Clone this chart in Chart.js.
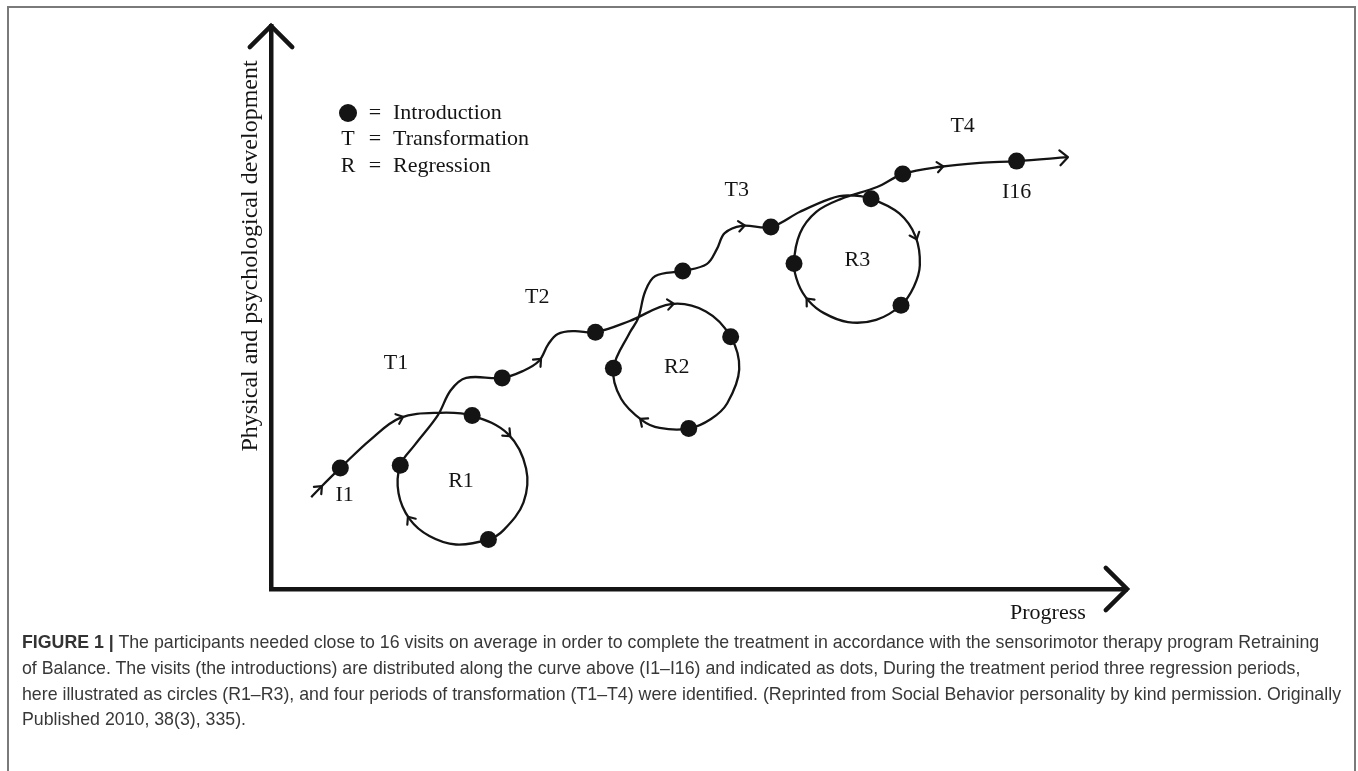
<!DOCTYPE html>
<html>
<head>
<meta charset="utf-8">
<script src="https://cdn.jsdelivr.net/npm/chart.js@4.4.1/dist/chart.umd.min.js"></script>
<style>
html, body { margin: 0; padding: 0; background: #fff; overflow: hidden; }
#frame { position: absolute; left: 7px; top: 6px; width: 1349px; height: 820px; border: 2px solid #7a7a7a; box-sizing: border-box; }
#wrap { position: absolute; left: 0; top: 0; width: 1358px; height: 640px; }
#caption { position: absolute; left: 22px; top: 630px; font-family: "Liberation Sans", Arial, sans-serif; font-size: 16.5px; line-height: 25.8px; color: #383838; white-space: nowrap; }
#caption b { font-weight: bold; color: #333; }
</style>
</head>
<body>
<div id="frame"></div>
<div id="wrap"><canvas id="fig"></canvas></div>
<div id="caption"><span id="line1"><b>FIGURE 1 |</b> The participants needed close to 16 visits on average in order to complete the treatment in accordance with the sensorimotor therapy program Retraining</span><br>of Balance. The visits (the introductions) are distributed along the curve above (I1–I16) and indicated as dots, During the treatment period three regression periods,<br>here illustrated as circles (R1–R3), and four periods of transformation (T1–T4) were identified. (Reprinted from Social Behavior personality by kind permission. Originally<br>Published 2010, 38(3), 335).</div>
<script>
// the development curve (progress 0-100, development 0-100)
const curveX = [4.7, 5.7, 8.1, 11.6, 15.1, 19.7, 23.5, 27.7, 29.8, 29.5,
                27.2, 25.4, 21.6, 18.5, 16.2, 14.9, 15.1, 16.8, 19.5, 21.0,
                22.8, 27.0, 29.4, 31.3, 32.4, 33.5, 35.4, 37.9, 41.9, 46.7,
                50.8, 53.7, 54.7, 53.3, 51.4, 48.8, 45.4, 43.4, 40.9, 40.0,
                41.9, 42.9, 43.7, 44.9, 48.1, 50.9, 52.1, 53.0, 55.0, 58.4,
                61.8, 65.3, 67.4, 70.1, 73.4, 75.3, 75.8, 75.1, 73.6, 70.7,
                67.4, 64.6, 62.8, 61.6, 61.1, 61.8, 63.7, 66.6, 70.8, 73.8,
                78.2, 82.8, 87.1, 93.1];
const curveY = [16.3, 17.9, 21.5, 26.5, 30.4, 31.3, 30.8, 27.5, 21.4, 15.4,
                10.5, 8.8, 7.9, 9.4, 12.4, 17.0, 22.0, 25.6, 30.9, 35.3,
                37.5, 37.5, 38.7, 40.5, 43.5, 45.3, 45.8, 45.6, 47.6, 50.6,
                49.3, 44.8, 39.0, 33.0, 30.2, 28.5, 28.6, 29.9, 33.8, 39.2,
                45.5, 48.1, 52.8, 55.6, 56.5, 57.7, 60.4, 63.2, 64.5, 64.3,
                67.0, 69.3, 69.9, 69.3, 66.7, 62.6, 57.5, 53.7, 50.4, 47.8,
                47.4, 49.0, 51.2, 54.2, 57.8, 63.2, 67.0, 69.3, 71.4, 73.7,
                75.0, 75.7, 76.0, 76.7];

// which curve points are visits (I1..I16) and where direction arrows sit
const visitIdx = [2, 6, 11, 16, 21, 27, 31, 35, 39, 44, 49, 53, 58, 64, 69, 72];
const arrowIdx = [1, 4, 7, 14, 23, 29, 37, 48, 55, 62, 70, 73];

// text labels placed in data units
const labelText = ['T1', 'T2', 'T3', 'T4', 'R1', 'R2', 'R3', 'I1', 'I16'];
const labelX    = [14.6, 31.1, 54.4, 80.8, 22.2, 47.4, 68.5, 8.6, 87.1];
const labelY    = [40.1, 51.9, 70.9, 82.2, 19.2, 39.4, 58.4, 16.7, 70.5];

const legendKey  = ['●', 'T', 'R'];
const legendText = ['Introduction', 'Transformation', 'Regression'];

const xTitle = 'Progress';
const yTitle = 'Physical and psychological development';

const serif = '"Liberation Serif", "Times New Roman", serif';
const ink = '#141414';

function chevron(ctx, x, y, ang, len, spread) {
    ctx.beginPath();
    ctx.moveTo(x - len * Math.cos(ang - spread), y - len * Math.sin(ang - spread));
    ctx.lineTo(x, y);
    ctx.lineTo(x - len * Math.cos(ang + spread), y - len * Math.sin(ang + spread));
    ctx.stroke();
}

const sketchPlugin = {
    id: 'sketch',
    afterDatasetsDraw(chart) {
        const ctx = chart.ctx;
        const pts = chart.getDatasetMeta(0).data;
        ctx.save();
        ctx.strokeStyle = ink;
        ctx.lineWidth = 2.2;
        ctx.lineCap = 'round';
        ctx.lineJoin = 'round';
        arrowIdx.forEach((i) => {
            const p = pts[i];
            var ang;
            if (i === pts.length - 1) {
                ang = Math.atan2(p.y - pts[i - 1].y, p.x - pts[i - 1].x);
                chevron(ctx, p.x, p.y, ang, 11, 0.75);
            } else {
                ang = Math.atan2(p.cp2y - p.cp1y, p.cp2x - p.cp1x);
                chevron(ctx, p.x + 3 * Math.cos(ang), p.y + 3 * Math.sin(ang), ang, 8, 0.7);
            }
        });
        ctx.restore();
    },
    afterDraw(chart) {
        const ctx = chart.ctx;
        const area = chart.chartArea;
        const xs = chart.scales.x, ys = chart.scales.y;
        ctx.save();
        // axis arrowheads
        ctx.strokeStyle = ink;
        ctx.lineWidth = 4.5;
        ctx.lineCap = 'round';
        ctx.lineJoin = 'miter';
        chevron(ctx, area.right, area.bottom, 0, 30, Math.PI / 4);
        chevron(ctx, area.left, area.top, -Math.PI / 2, 30, Math.PI / 4);

        ctx.fillStyle = ink;
        ctx.font = '22px ' + serif;
        ctx.textAlign = 'center';
        ctx.textBaseline = 'middle';
        labelText.forEach((t, i) => {
            ctx.fillText(t, xs.getPixelForValue(labelX[i]), ys.getPixelForValue(labelY[i]));
        });

        // legend
        legendKey.forEach((k, i) => {
            const ly = area.top + 87 + i * 26.5;
            if (k === '●') {
                ctx.beginPath();
                ctx.arc(area.left + 77, ly, 9, 0, Math.PI * 2);
                ctx.fill();
            } else {
                ctx.textAlign = 'center';
                ctx.fillText(k, area.left + 77, ly);
            }
            ctx.textAlign = 'center';
            ctx.fillText('=', area.left + 104, ly);
            ctx.textAlign = 'left';
            ctx.fillText(legendText[i], area.left + 122, ly);
        });

        // axis titles
        ctx.font = '22px ' + serif;
        ctx.textAlign = 'left';
        ctx.textBaseline = 'alphabetic';
        ctx.fillText(xTitle, area.right - 117, area.bottom + 30);

        ctx.font = '24px ' + serif;
        ctx.translate(area.left - 14, area.top + 230);
        ctx.rotate(-Math.PI / 2);
        ctx.textAlign = 'center';
        ctx.textBaseline = 'alphabetic';
        ctx.fillText(yTitle, 0, 0);
        ctx.restore();
    }
};

const points = curveX.map((x, i) => ({x: x, y: curveY[i]}));
const visitSet = new Set(visitIdx);

const axisOpts = {
    min: 0,
    max: 100,
    grid: {display: false, drawTicks: false},
    ticks: {display: false},
    border: {display: true, width: 4.5, color: ink}
};

new Chart(document.getElementById('fig'), {
    type: 'scatter',
    data: {
        datasets: [{
            label: 'Development',
            data: points,
            showLine: true,
            tension: 0.36,
            borderColor: ink,
            borderWidth: 2.3,
            pointRadius: (c) => visitSet.has(c.dataIndex) ? 8.5 : 0,
            pointBackgroundColor: ink,
            pointBorderWidth: 0,
            pointHoverRadius: 0
        }]
    },
    options: {
        responsive: true,
        maintainAspectRatio: false,
        animation: false,
        layout: {padding: {left: 271, right: 231, top: 26, bottom: 51}},
        scales: {
            x: Object.assign({type: 'linear', position: 'bottom'}, axisOpts),
            y: Object.assign({type: 'linear', position: 'left'}, axisOpts)
        },
        plugins: {
            legend: {display: false},
            tooltip: {enabled: false}
        }
    },
    plugins: [sketchPlugin]
});

// fit caption to the original line width
const line1 = document.getElementById('line1');
const cap = document.getElementById('caption');
const w = line1.getBoundingClientRect().width;
cap.style.fontSize = (16.5 * 1298 / w).toFixed(2) + 'px';
</script>
</body>
</html>
